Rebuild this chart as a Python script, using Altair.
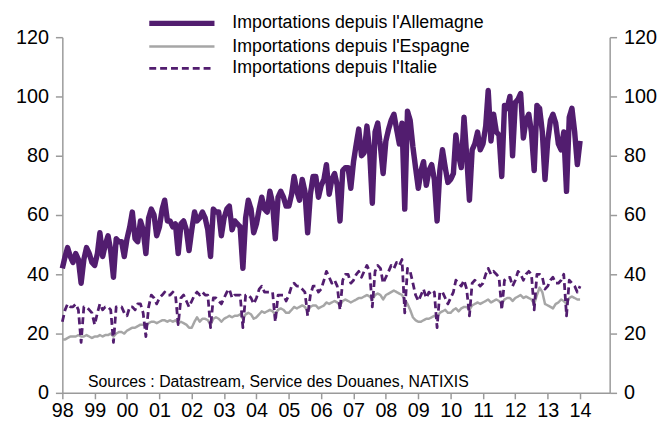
import altair as alt
import pandas as pd

series_names = [
    "Importations depuis l'Allemagne",
    "Importations depuis l'Espagne",
    "Importations depuis l'Italie",
]
first_month = "1998-01-01"
year_ticks = list(range(1998, 2015))
y_ticks = [0, 20, 40, 60, 80, 100, 120]
source_note = "Sources : Datastream, Service des Douanes, NATIXIS"

germany = [
    42, 46, 49, 46, 44, 47, 45, 37, 45, 49, 47, 44,
    43, 47, 54, 46, 50, 53, 48, 39, 52, 51, 51, 46,
    52, 56, 61, 52, 51, 58, 55, 47, 59, 62, 60, 53,
    56, 62, 65, 58, 58, 56, 57, 47, 57, 58, 55, 48,
    55, 61, 58, 59, 61, 59, 55, 46, 62, 61, 61, 53,
    59, 62, 63, 55, 58, 57, 56, 42, 59, 65, 62, 54,
    57, 62, 66, 62, 61, 68, 64, 52, 66, 68, 66, 63,
    63, 67, 73, 68, 65, 72, 68, 54, 67, 73, 73, 66,
    70, 72, 77, 67, 72, 74, 70, 58, 75, 76, 76, 69,
    78, 84, 89, 80, 81, 90, 82, 64, 88, 91, 83, 74,
    85, 89, 92, 94, 89, 84, 91, 62, 95, 92, 83, 76,
    69, 75, 78, 70, 75, 77, 72, 58, 75, 82, 76, 71,
    72, 74, 87, 80, 76, 93, 80, 65, 82, 84, 88, 82,
    84, 90, 102, 85, 94, 88, 87, 73, 97, 96, 100, 80,
    98, 99, 101, 86, 92, 94, 88, 75, 97, 96, 88, 72,
    85, 92, 94, 91, 84, 82, 88, 68, 93, 96, 88, 77,
    85,
]

spain = [
    18, 18, 18.5, 19, 19, 19, 19.5, 19, 19, 19.5, 19, 18.5,
    19, 19, 19.5, 19, 19.5, 19.5, 20, 19, 20, 20.5, 20.5, 20,
    21, 21.5, 22, 22, 22.5, 23, 23, 22.5, 23.5, 24, 24, 23.5,
    24, 24.5, 24.5, 24, 24.5, 24, 24.5, 23.5, 24, 23.5, 23, 22,
    22, 24, 25.5, 24, 25, 25, 24.5, 23, 25, 25.5, 25, 24,
    25, 25.5, 26, 25.5, 26, 26, 26.5, 25, 26.5, 27, 26.5, 25,
    25.5, 26.5, 27.5, 27, 27.5, 28, 27.5, 26.5, 28, 28.5, 28, 27,
    27, 28, 29, 28.5, 29, 29.5, 29, 27.5, 29, 29.5, 29.5, 28.5,
    29, 29.5, 30.5, 30, 30.5, 31, 30.5, 29.5, 31, 31.5, 31, 30.5,
    31, 31.5, 32, 32, 32.5, 33, 32.5, 31.5, 33, 33.5, 33, 31.5,
    33, 33.5, 34, 34.5, 34, 33.5, 33, 31.5, 30, 28, 25.5, 24.5,
    24, 24, 24.5, 25, 25, 25.5, 26, 25.5, 27, 27.5, 28, 27,
    27, 28, 28.5, 27.5, 28.5, 29, 29, 28, 29.5, 30, 30.5, 30,
    30.5, 31, 31.5, 30.5, 31, 31.5, 31, 30, 31.5, 32, 32, 31,
    32, 32.5, 33, 32, 32.5, 32, 31.5, 30, 33, 35.5, 34, 30,
    29.5, 29, 28.5, 30, 30.5, 31.5, 31, 30, 32, 32.5, 32, 31.5,
    31.5,
]

italy = [
    24, 28, 30, 29, 29, 30, 28, 17, 29, 29, 28, 27,
    23, 27, 30, 28, 29, 29, 28, 17, 29, 29, 29, 27,
    26, 29, 29, 28, 30, 30, 27, 19, 29, 33, 32, 30,
    32, 33, 34, 33, 33, 34, 33, 23, 32, 33, 31, 29,
    31, 33, 34, 33, 34, 33, 33, 22, 32, 32, 31, 30,
    32, 34, 35, 32, 33, 33, 33, 22, 33, 33, 32, 30,
    32, 35, 36, 34, 34, 34, 34, 24, 33, 33, 33, 31,
    33, 36, 37, 36, 36, 35, 34, 26, 33, 36, 36, 34,
    35, 38, 41, 39, 37, 38, 36, 28, 38, 40, 40, 37,
    38, 40, 41, 39, 41, 43, 41, 29, 41, 43, 42, 37,
    39, 41, 43, 42, 44, 43, 45, 27, 42, 41, 37, 33,
    31, 33, 35, 32, 34, 33, 34, 22, 34, 34, 32, 30,
    32, 34, 38, 37, 36, 38, 35, 26, 37, 38, 37, 36,
    37, 40, 42, 40, 41, 40, 39, 28, 38, 39, 39, 36,
    38, 41, 40, 38, 40, 41, 40, 28, 40, 40, 39, 35,
    36, 38, 39, 37, 37, 38, 40, 26, 38, 37, 36, 34,
    36,
]

dates = pd.date_range(first_month, periods=len(germany), freq="MS").strftime("%Y-%m-%dT00:00:00")
frames = []
for name, vals in zip(series_names, [germany, spain, italy]):
    frames.append(pd.DataFrame({"date": dates, "value": vals, "series": name}))
df = pd.concat(frames, ignore_index=True)

purple = "#521D6F"
gray = "#A6A6A6"
axis_gray = "#9A9A9A"
font = "Liberation Sans"

x_enc = alt.X(
    "date:T",
    title=None,
    scale=alt.Scale(
        domain=[alt.DateTime(year=1998, month=1, date=1), alt.DateTime(year=2014, month=12, date=1)],
        nice=False,
    ),
    axis=alt.Axis(
        values=[alt.DateTime(year=y, month=1, date=1) for y in year_ticks],
        format="%y",
        grid=False,
        domainColor=axis_gray,
        domainWidth=1.5,
        tickColor=axis_gray,
        tickWidth=1.5,
        tickSize=6,
        labelFont=font,
        labelFontSize=20,
        labelColor="black",
        labelPadding=2,
        labelFlush=False,
        labelOverlap=False,
    ),
)

yscale = alt.Scale(domain=[0, 120], nice=False)

def y_axis(orient):
    return alt.Axis(
        orient=orient,
        values=y_ticks,
        grid=False,
        domainColor=axis_gray,
        domainWidth=1.5,
        tickColor=axis_gray,
        tickWidth=1.5,
        tickSize=7,
        labelFont=font,
        labelFontSize=20,
        labelColor="black",
        labelPadding=7,
    )

legend = alt.Legend(
    title=None,
    orient="none",
    legendX=108,
    legendY=-27,
    symbolType="M-3.3,0H3.3",
    symbolSize=400,
    labelFont=font,
    labelFontSize=18,
    labelColor="black",
    labelOffset=38,
    labelLimit=500,
    rowPadding=1,
    padding=0,
)

lines = alt.Chart(df).mark_line(strokeJoin="round").encode(
    x=x_enc,
    y=alt.Y("value:Q", title=None, scale=yscale, axis=y_axis("left")),
    color=alt.Color("series:N", sort=series_names,
                    scale=alt.Scale(domain=series_names, range=[purple, gray, purple]),
                    legend=legend),
    strokeDash=alt.StrokeDash("series:N", sort=series_names,
                              scale=alt.Scale(domain=series_names, range=[[1, 0], [1, 0], [7, 4]]),
                              legend=legend),
    strokeWidth=alt.StrokeWidth("series:N", sort=series_names,
                                scale=alt.Scale(type="ordinal", domain=series_names, range=[5.5, 2.5, 2.8]),
                                legend=legend),
)

right = alt.Chart(df).mark_line(opacity=0).encode(
    x=x_enc,
    y=alt.Y("value:Q", title=None, scale=yscale, axis=y_axis("right")),
)

note = alt.Chart(pd.DataFrame({"t": [source_note]})).mark_text(
    align="left", baseline="middle", font=font, fontSize=16, color="black"
).encode(text="t:N", x=alt.value(26), y=alt.value(349))

chart = alt.layer(lines, right, note).resolve_scale(y="independent").properties(
    width=554,
    height=360,
    autosize=alt.AutoSizeParams(type="none"),
    padding={"left": 55, "top": 27, "right": 55, "bottom": 30},
).configure_view(stroke=None)

chart.save("out.html", embed_options={"renderer": "svg", "actions": False})
